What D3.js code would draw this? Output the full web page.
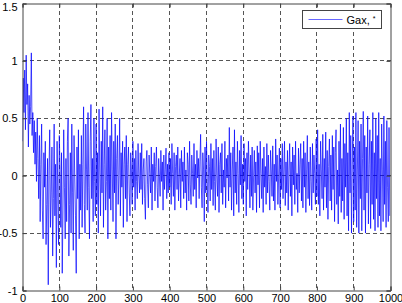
<!DOCTYPE html>
<html>
<head>
<meta charset="utf-8">
<script src="https://cdn.jsdelivr.net/npm/d3@7"></script>
<style>
  html, body { margin: 0; padding: 0; background: #fff; }
  svg { display: block; font-family: "Liberation Sans", Arial, sans-serif; }
  .tick text { font-size: 11px; fill: #000; }
</style>
</head>
<body>
<div id="chart"></div>
<script>
/* Gax signal, one value every STEP samples (0..1000) */
const STEP = 2;
const gax = [
  0.30, 0.85, 0.55, 0.92, 0.40, 1.05, 0.62, 0.80, 0.25, 0.70, 0.45, 0.60, 1.07, 0.35, 0.55, 0.20, 0.48, 0.10, 0.38, -0.05,
  0.50, 0.15, -0.20, 0.35, -0.40, 0.10, 0.45, -0.30, -0.55, 0.20, -0.10, 0.30, -0.60, -0.25, 0.15, -0.95, 0.05, 0.40, -0.45, -0.15,
  0.25, -0.70, -0.20, 0.45, -0.35, 0.10, -0.80, 0.30, -0.15, -0.60, 0.35, 0.05, -0.45, 0.20, -0.85, -0.30, 0.40, -0.10, -0.55, 0.15,
  -0.40, 0.30, 0.50, -0.70, -0.25, 0.20, -0.50, 0.45, -0.15, -0.65, 0.35, 0.00, -0.35, -0.85, 0.25, -0.20, 0.40, -0.55, 0.10, -0.30,
  0.35, -0.45, 0.10, 0.60, -0.25, -0.50, 0.45, 0.05, -0.30, 0.55, -0.10, -0.55, 0.30, 0.62, -0.20, 0.15, -0.40, 0.50, -0.05, -0.35,
  0.45, -0.25, 0.20, -0.50, 0.58, 0.05, -0.35, 0.30, -0.15, 0.60, -0.45, 0.10, 0.40, -0.30, -0.05, 0.50, -0.55, 0.25, -0.20, 0.35,
  -0.30, 0.55, 0.05, -0.40, 0.30, -0.15, 0.45, -0.55, 0.15, 0.35, -0.25, 0.00, 0.50, -0.35, 0.20, -0.10, 0.30, -0.45, 0.10, 0.25,
  -0.20, 0.35, -0.40, 0.10, 0.25, -0.15, -0.35, 0.20, 0.05, -0.25, 0.30, -0.10, 0.15, -0.30, 0.22, -0.05, -0.20, 0.28, 0.00, -0.15,
  0.20, -0.12, 0.28, -0.25, 0.05, 0.15, -0.20, -0.38, 0.12, 0.22, -0.08, -0.28, 0.18, 0.02, -0.15, 0.25, -0.30, 0.10, -0.05, 0.20,
  -0.22, 0.08, 0.25, -0.10, -0.28, 0.15, 0.00, -0.18, 0.22, -0.05, 0.12, -0.30, 0.18, -0.12, 0.05, 0.24, -0.20, 0.10, -0.15, 0.20,
  -0.10, 0.15, -0.25, 0.28, 0.02, -0.18, 0.20, -0.30, 0.08, 0.18, -0.12, 0.25, -0.22, 0.00, 0.15, -0.28, 0.22, -0.05, 0.12, -0.20,
  0.25, -0.15, 0.05, -0.30, 0.20, 0.10, -0.22, 0.30, -0.08, -0.25, 0.18, 0.02, -0.18, 0.28, -0.12, 0.10, -0.28, 0.22, -0.02, 0.15,
  -0.20, 0.12, 0.36, -0.10, -0.28, 0.20, 0.05, -0.40, 0.25, -0.15, 0.30, -0.05, -0.32, 0.18, 0.08, -0.22, 0.28, -0.12, 0.15, -0.26,
  0.22, -0.05, -0.30, 0.32, 0.00, -0.18, 0.25, -0.32, 0.10, 0.20, -0.15, 0.28, -0.25, 0.05, -0.10, 0.30, -0.28, 0.15, -0.02, 0.18,
  -0.22, 0.42, -0.10, 0.20, -0.30, 0.05, 0.25, -0.35, 0.40, -0.15, 0.12, -0.25, 0.30, 0.02, -0.32, 0.22, -0.08, 0.35, -0.20, 0.10,
  -0.25, 0.28, -0.05, 0.15, -0.35, 0.20, -0.12, 0.30, 0.05, -0.28, 0.18, -0.18, 0.25, -0.30, 0.00, 0.22, -0.15, 0.12, -0.32, 0.26,
  -0.08, 0.20, -0.28, 0.30, 0.02, -0.20, 0.15, -0.32, 0.25, -0.10, 0.08, -0.25, 0.28, -0.15, 0.18, -0.05, -0.30, 0.22, 0.05, -0.18,
  0.26, -0.22, 0.10, -0.30, 0.32, -0.05, 0.18, -0.25, 0.00, 0.24, -0.28, 0.15, -0.12, 0.28, -0.20, 0.05, 0.30, -0.26, 0.12, -0.15,
  0.22, -0.30, 0.05, 0.28, -0.18, 0.12, -0.35, 0.25, -0.08, 0.18, -0.25, 0.30, -0.12, 0.02, -0.32, 0.24, -0.15, 0.10, 0.28, -0.22,
  0.15, -0.28, 0.30, -0.10, 0.20, -0.32, 0.05, 0.35, -0.20, 0.12, -0.26, 0.25, -0.05, -0.30, 0.28, -0.15, 0.18, 0.02, -0.25, 0.32,
  -0.18, 0.40, -0.25, 0.10, -0.35, 0.30, 0.05, -0.20, 0.36, -0.30, 0.15, -0.10, 0.38, -0.28, 0.22, -0.38, 0.08, 0.32, -0.22, 0.18,
  -0.30, 0.35, -0.12, 0.25, -0.40, 0.20, 0.40, -0.25, 0.05, -0.42, 0.30, -0.18, 0.45, -0.32, 0.15, -0.22, 0.42, -0.38, 0.28, -0.10,
  0.50, -0.35, 0.20, -0.48, 0.55, -0.15, 0.35, -0.50, 0.10, 0.52, -0.40, 0.25, -0.30, 0.55, -0.45, 0.05, 0.48, -0.50, 0.30, -0.20,
  0.45, -0.48, 0.15, 0.56, -0.30, 0.35, -0.50, 0.25, -0.15, 0.52, -0.42, 0.10, 0.40, -0.46, 0.30, -0.25, 0.55, -0.38, 0.20, -0.48,
  0.50, -0.20, 0.35, -0.45, 0.55, -0.35, 0.15, -0.48, 0.45, 0.05, -0.40, 0.52, -0.25, 0.30, -0.45, 0.48, -0.10, -0.40, 0.42, -0.35
];
const xTicks = [0, 100, 200, 300, 400, 500, 600, 700, 800, 900, 1000];
const yTicks = [-1, -0.5, 0, 0.5, 1, 1.5];
const legendLabel = 'Gax, ';

/* ── Layout ─────────────────────────────────────────────── */
const TW = 402, TH = 303;
const M = { top: 3, right: 12, bottom: 13, left: 22 };
const W = TW - M.left - M.right;
const H = TH - M.top - M.bottom;

const svg = d3.select('#chart').append('svg')
  .attr('width', TW).attr('height', TH);

const x = d3.scaleLinear().domain([0, 1000]).range([0, W]);
const y = d3.scaleLinear().domain([-1, 1.5]).range([H, 0]);

const root = svg.append('g')
  .attr('transform', `translate(${M.left + 0.5},${M.top + 0.5})`);

root.append('defs').append('clipPath').attr('id', 'clip')
  .append('rect').attr('width', W).attr('height', H);

// Grid (dashed)
const grid = root.append('g').attr('stroke', '#555').attr('stroke-width', 1)
  .attr('stroke-dasharray', '4,3').attr('shape-rendering', 'crispEdges');
grid.selectAll('.gx').data(xTicks.slice(1, -1)).join('line')
  .attr('x1', d => Math.round(x(d))).attr('x2', d => Math.round(x(d)))
  .attr('y1', 0).attr('y2', H);
grid.selectAll('.gy').data(yTicks.slice(1, -1)).join('line')
  .attr('y1', d => Math.round(y(d))).attr('y2', d => Math.round(y(d)))
  .attr('x1', 0).attr('x2', W);

// Signal
const line = d3.line()
  .x((d, i) => x(i * STEP))
  .y(d => y(d));
root.append('path')
  .datum(gax)
  .attr('clip-path', 'url(#clip)')
  .attr('fill', 'none')
  .attr('stroke', '#0000ff')
  .attr('stroke-width', 0.7)
  .attr('d', line);

// Axes (MATLAB style: inward ticks on all four sides)
root.append('g').attr('transform', `translate(0,${H})`)
  .call(d3.axisBottom(x).tickValues(xTicks).tickSize(-4).tickPadding(4)
    .tickFormat(d3.format('d')));
const yAxis = root.append('g')
  .call(d3.axisLeft(y).tickValues(yTicks).tickSize(-4).tickPadding(5)
    .tickFormat(d => String(d)));
// keep the top label inside the window
yAxis.selectAll('.tick text').filter(d => d === 1.5).attr('dy', '0.6em');
root.append('g')
  .call(d3.axisTop(x).tickValues(xTicks).tickSize(-4).tickFormat(''));
root.append('g').attr('transform', `translate(${W},0)`)
  .call(d3.axisRight(y).tickValues(yTicks).tickSize(-4).tickFormat(''));
root.selectAll('.domain').attr('stroke', '#444');
root.selectAll('.tick line').attr('stroke', '#444');
root.selectAll('.tick text').attr('font-family', '"Liberation Sans", Arial, sans-serif');

// Legend
const lg = root.append('g').attr('transform', `translate(${W - 88},7)`);
lg.append('rect').attr('width', 79).attr('height', 18)
  .attr('fill', '#fff').attr('stroke', '#444');
lg.append('line').attr('x1', 6).attr('x2', 40).attr('y1', 9).attr('y2', 9)
  .attr('stroke', '#0000ff').attr('stroke-width', 0.6);
const lt = lg.append('text').attr('x', 44).attr('y', 13)
  .attr('font-size', 11).attr('fill', '#000');
lt.append('tspan').text(legendLabel);
lt.append('tspan').attr('font-size', 7).attr('dy', -3).text('*');
</script>
</body>
</html>
